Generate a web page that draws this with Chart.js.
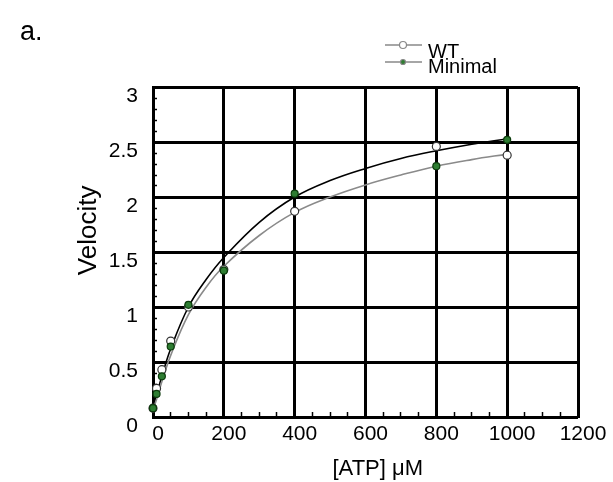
<!DOCTYPE html>
<html>
<head>
<meta charset="utf-8">
<script src="https://cdn.jsdelivr.net/npm/chart.js@4.4.1/dist/chart.umd.min.js"></script>
<style>
  html, body { margin: 0; padding: 0; background: #fff; }
  #wrap { width: 613px; height: 482px; }
</style>
</head>
<body>
<div id="wrap"><canvas id="chart"></canvas></div>
<script>
// measured points, [ATP] in uM
const atpConc = [0, 10, 25, 50, 100, 200, 400, 800, 1000];
const wtVelocity = [0.08, 0.26, 0.43, 0.69, 1.00, 1.34, 1.87, 2.46, 2.38];
const minimalVelocity = [0.08, 0.21, 0.37, 0.64, 1.02, 1.33, 2.03, 2.28, 2.52];

// fitted curves
const fitConc = [0, 10, 25, 50, 100, 150, 200, 300, 400, 500, 600, 700, 800, 900, 1000];
const wtFit = [0.07, 0.16, 0.32, 0.56, 0.93, 1.18, 1.37, 1.65, 1.86, 2.00, 2.11, 2.20, 2.28, 2.34, 2.39];
const minimalFit = [0.08, 0.20, 0.37, 0.62, 1.00, 1.25, 1.45, 1.77, 2.00, 2.15, 2.26, 2.35, 2.42, 2.48, 2.53];

const xTickLabels = [0, 200, 400, 600, 800, 1000, 1200];
const yTickLabels = [0, 0.5, 1, 1.5, 2, 2.5, 3];

const FONT = 'Liberation Sans';

const pts = (xs, ys) => xs.map((x, i) => ({x: x, y: ys[i]}));
const isLabel = (list, v) => list.some(t => Math.abs(t - v) < 1e-6);

// legend drawn as a stacked list (line + marker, then name)
const stackedLegend = {
  id: 'stackedLegend',
  afterDraw(chart, args, opts) {
    const ctx = chart.ctx;
    ctx.save();
    let row = 0;
    chart.data.datasets.filter(ds => ds.legendLine)
      .sort((a, b) => a.legendRow - b.legendRow)
      .forEach((ds) => {
        const ly = opts.lineY + row * opts.lineStep;
        ctx.strokeStyle = ds.legendLine;
        ctx.lineWidth = 1.5;
        ctx.beginPath();
        ctx.moveTo(opts.x0, ly);
        ctx.lineTo(opts.x1, ly);
        ctx.stroke();
        ctx.beginPath();
        ctx.arc(opts.markX, ly, ds.legendRadius, 0, Math.PI * 2);
        ctx.fillStyle = ds.legendFill;
        ctx.fill();
        ctx.strokeStyle = ds.legendLine;
        ctx.lineWidth = 1.2;
        ctx.stroke();
        ctx.fillStyle = '#000';
        ctx.font = opts.font;
        ctx.textBaseline = 'alphabetic';
        ctx.fillText(ds.label, opts.textX, opts.textY + row * opts.textStep);
        row++;
      });
    ctx.restore();
  }
};

new Chart(document.getElementById('chart'), {
  type: 'scatter',
  data: {
    datasets: [
      {
        label: 'WT', data: pts(atpConc, wtVelocity),
        pointRadius: 4, pointBackgroundColor: '#fff', pointBorderColor: '#333', pointBorderWidth: 1.2,
        clip: false, order: 1,
        legendRow: 0, legendLine: '#888', legendFill: '#fff', legendRadius: 3.5
      },
      {
        label: 'Minimal', data: pts(atpConc, minimalVelocity),
        pointRadius: 3.5, pointBackgroundColor: '#2e7d32', pointBorderColor: '#0b3b0b', pointBorderWidth: 1.2,
        clip: false, order: 0,
        legendRow: 1, legendLine: '#888', legendFill: '#2e7d32', legendRadius: 2.5
      },
      {
        label: 'WT fit', data: pts(fitConc, wtFit), showLine: true,
        borderColor: '#8a8a8a', borderWidth: 1.6, pointRadius: 0,
        tension: 0.4, order: 2
      },
      {
        label: 'Minimal fit', data: pts(fitConc, minimalFit), showLine: true,
        borderColor: '#000', borderWidth: 1.6, pointRadius: 0,
        tension: 0.4, order: 3
      }
    ]
  },
  options: {
    responsive: true,
    maintainAspectRatio: false,
    animation: false,
    layout: { padding: { left: 20, right: 35, top: 0, bottom: 0 } },
    scales: {
      x: {
        type: 'linear', min: 0, max: 1200,
        afterFit: (s) => { s.height = 65; },
        ticks: {
          stepSize: 50, autoSkip: false, maxRotation: 0,
          padding: 10, labelOffset: 5, color: '#000',
          font: { family: FONT, size: 21 },
          callback: (v) => isLabel(xTickLabels, v) ? String(v) : ''
        },
        grid: {
          color: (c) => (c.tick && isLabel(xTickLabels, c.tick.value)) ? '#000' : 'rgba(0,0,0,0)',
          lineWidth: 3,
          tickLength: -5, tickColor: '#000', tickWidth: 1.5
        },
        border: { color: '#000', width: 2 },
        title: {
          display: true, text: '    [ATP] \u03bcM', color: '#000',
          font: { family: FONT, size: 22 },
          padding: { top: 0, bottom: 0 }
        }
      },
      y: {
        min: 0, max: 3,
        afterFit: (s) => { s.width = 133; },
        ticks: {
          stepSize: 0.1, autoSkip: false,
          padding: 19, labelOffset: 9, color: '#000',
          font: { family: FONT, size: 21 },
          callback: (v) => isLabel(yTickLabels, v) ? String(Math.round(v * 10) / 10) : ''
        },
        grid: {
          color: (c) => (c.tick && isLabel(yTickLabels, c.tick.value)) ? '#000' : 'rgba(0,0,0,0)',
          lineWidth: 3,
          tickLength: -4, tickColor: '#000', tickWidth: 1.5
        },
        border: { color: '#000', width: 2 },
        title: {
          display: true, text: '      Velocity', color: '#000',
          font: { family: FONT, size: 26 },
          padding: { top: 53, bottom: 0 }
        }
      }
    },
    plugins: {
      legend: { display: false },
      tooltip: { enabled: false },
      title: {
        display: true, text: 'a.', align: 'start', color: '#000',
        font: { family: FONT, size: 27, weight: 'normal' },
        padding: { top: 16, bottom: 38.6 }
      },
      stackedLegend: {
        x0: 385, x1: 422, markX: 403, lineY: 45, lineStep: 17,
        textX: 428, textY: 58, textStep: 15,
        font: '20px "Liberation Sans", Arial, sans-serif'
      }
    }
  },
  plugins: [stackedLegend]
});
</script>
</body>
</html>
